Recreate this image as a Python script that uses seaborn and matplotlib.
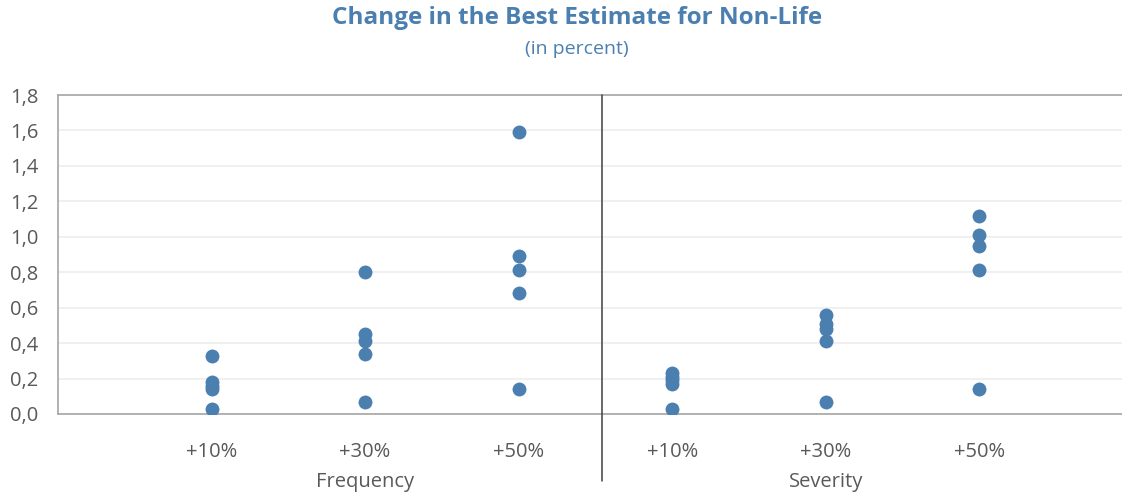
import pandas as pd
import matplotlib
matplotlib.use("Agg")
import matplotlib.pyplot as plt
from matplotlib.ticker import FuncFormatter
import seaborn as sns

# values (percent)
groups = ["Frequency", "Severity"]
shocks = ["+10%", "+30%", "+50%"]
freq_10 = [0.33, 0.18, 0.16, 0.14, 0.03]
freq_30 = [0.80, 0.45, 0.41, 0.34, 0.07]
freq_50 = [1.59, 0.89, 0.81, 0.68, 0.14]
sev_10 = [0.23, 0.21, 0.19, 0.17, 0.03]
sev_30 = [0.56, 0.51, 0.48, 0.41, 0.07]
sev_50 = [1.12, 1.01, 0.95, 0.81, 0.14]

series = {("Frequency", "+10%"): freq_10, ("Frequency", "+30%"): freq_30,
          ("Frequency", "+50%"): freq_50, ("Severity", "+10%"): sev_10,
          ("Severity", "+30%"): sev_30, ("Severity", "+50%"): sev_50}
rows = []
for (g, s), vals in series.items():
    for v in vals:
        rows.append({"cat": g + " " + s, "value": v})
df = pd.DataFrame(rows)
order = [g + " " + s for g in groups for s in shocks]

sns.set_style("white")
plt.rcParams['font.family'] = ['Open Sans', 'DejaVu Sans']

blue = "#4a7fb0"
grey = "#595959"
fig = plt.figure(figsize=(11.22, 4.92), dpi=100)
ax = fig.add_axes([58 / 1122, 78 / 492, 1064 / 1122, 319 / 492])

sns.stripplot(data=df, x="cat", y="value", order=order, jitter=False,
              color=blue, size=10, linewidth=0, ax=ax, zorder=3)

ax.set_ylim(0, 1.8)
ax.set_xlim(-1.0, 5.93)
ax.set_yticks([i * 0.2 for i in range(10)])
ax.yaxis.set_major_formatter(FuncFormatter(lambda v, p: f"{v:.1f}".replace(".", ",")))
ax.set_xticks(range(len(order)))
ax.set_xticklabels([s for g in groups for s in shocks])
ax.tick_params(axis="both", length=0, labelsize=14.5, labelcolor=grey)
ax.tick_params(axis="x", pad=20)
ax.tick_params(axis="y", pad=14)
ax.grid(axis="y", color="#efefef", linewidth=1.3, zorder=0)
ax.set_axisbelow(True)
ax.set_xlabel("")
ax.set_ylabel("")
for side in ["left", "top", "bottom"]:
    ax.spines[side].set_color("#a6a6a6")
    ax.spines[side].set_linewidth(1.2)
ax.spines["right"].set_visible(False)

# divider between the groups
ax.plot([2.54, 2.54], [1.8, -0.38], color="#404040", linewidth=1.1,
        clip_on=False, zorder=4)

# group labels
for i, g in enumerate(groups):
    ax.text(1 + 3 * i, -0.385, g, ha="center", va="center", fontsize=14.5,
            color=grey)

fig.text(0.514, 0.963, "Change in the Best Estimate for Non-Life", ha="center",
         va="center", fontsize=17.5, fontweight="bold", color=blue)
fig.text(0.514, 0.9, "(in percent)", ha="center", va="center", fontsize=14,
         color=blue)

fig.savefig("out.png", dpi=100)
